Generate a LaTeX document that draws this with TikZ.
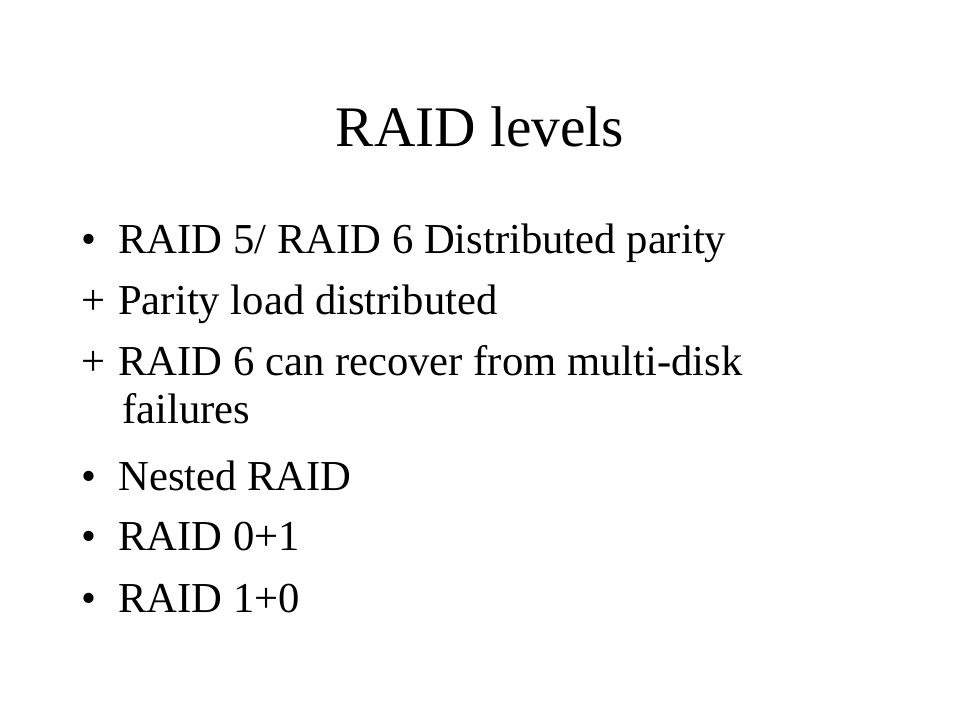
\documentclass[tikz,border=0pt]{standalone}
\usepackage{fontspec}
\setmainfont{Liberation Serif}

\tikzset{
  heading/.style={anchor=base,inner sep=0pt,font=\fontsize{43}{48}\selectfont},
  entry/.style={anchor=base west,inner sep=0pt,font=\fontsize{32}{38}\selectfont},
  bul/.style={anchor=base west,inner sep=0pt,font=\fontsize{32}{38}\selectfont}
}

\begin{document}
\begin{tikzpicture}[x=0.75pt,y=-0.75pt]

  \useasboundingbox (0,0) rectangle (960,720);

  \node[heading] (title) at (480,147) {RAID levels};

  \node[bul] (b1) at (81,254) {•};
  \node[entry] (e1) at (118,254) {RAID 5/ RAID 6 Distributed parity};
  \node[bul] (p1) at (81,315) {+};
  \node[entry] (e2) at (118,315) {Parity load distributed};
  \node[bul] (p2) at (81,375) {+};
  \node[entry] (e3) at (118,375) {RAID 6 can recover from multi-disk};
  \node[entry] (e3b) at (122,423) {failures};
  \node[bul] (b2) at (81,490) {•};
  \node[entry] (e4) at (118,490) {Nested RAID};
  \node[bul] (b3) at (81,550) {•};
  \node[entry] (e5) at (118,550) {RAID 0+1};
  \node[bul] (b4) at (81,612) {•};
  \node[entry] (e6) at (118,612) {RAID 1+0};

\end{tikzpicture}
\end{document}
